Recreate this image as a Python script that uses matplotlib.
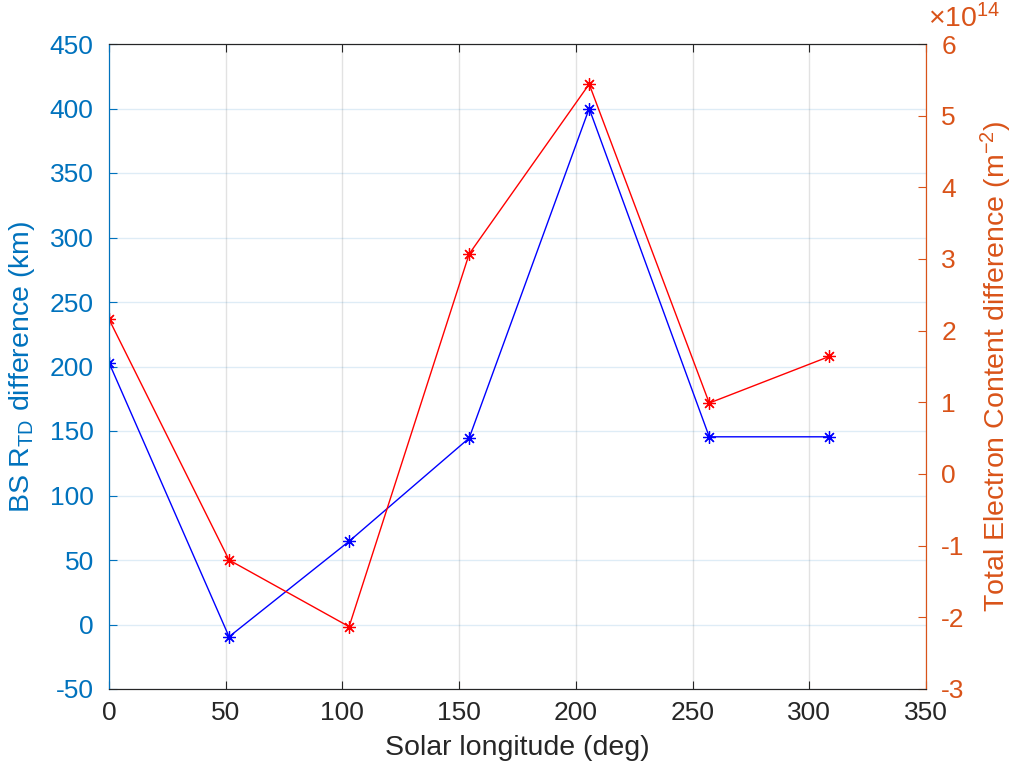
import matplotlib
matplotlib.use('Agg')
import matplotlib.pyplot as plt
from matplotlib.ticker import FuncFormatter

plt.rcParams['font.family'] = ['Liberation Sans', 'DejaVu Sans']
plt.rcParams['mathtext.fontset'] = 'custom'
plt.rcParams['mathtext.rm'] = 'Liberation Sans'
plt.rcParams['mathtext.it'] = 'Liberation Sans:italic'
plt.rcParams['axes.unicode_minus'] = False

# solar longitude (deg)
ls = [0, 51.43, 102.86, 154.29, 205.71, 257.14, 308.57]
# bow shock terminator distance difference (km)
rtd_diff = [203, -9.5, 64.5, 144.5, 400, 145.5, 145.5]
# total electron content difference (m^-2)
tec_diff = [2.16e14, -1.2e14, -2.13e14, 3.07e14, 5.44e14, 0.99e14, 1.64e14]

blue_ax = '#0072BD'
orange_ax = '#D95319'
dark = '#262626'

fig = plt.figure(figsize=(10.12, 7.74), dpi=100)
ax1 = fig.add_axes([109/1012, 85/774, 817/1012, 645/774])
ax2 = ax1.twinx()

ax1.plot(ls, rtd_diff, 'b-', lw=1, marker=(8, 2, 0), ms=9, mew=0.9)
ax2.plot(ls, tec_diff, 'r-', lw=1, marker=(8, 2, 0), ms=9, mew=0.9)

ax1.set_xlim(0, 350)
ax1.set_ylim(-50, 450)
ax1.set_xticks(range(0, 351, 50))
ax1.set_yticks(range(-50, 451, 50))
ax2.set_ylim(-3e14, 6e14)
ax2.set_yticks([i * 1e14 for i in range(-3, 7)])
ax2.yaxis.set_major_formatter(FuncFormatter(lambda v, p: '%d' % round(v / 1e14)))

# grid
ax1.set_axisbelow(True)
ax1.grid(axis='x', color=dark, alpha=0.13, lw=1)
ax1.grid(axis='y', color=blue_ax, alpha=0.13, lw=1)

# spines
for ax in (ax1, ax2):
    ax.spines['top'].set_color(dark)
    ax.spines['bottom'].set_color(dark)
    ax.spines['left'].set_color(blue_ax)
    ax.spines['right'].set_color(orange_ax)

ax1.tick_params(axis='x', direction='in', length=6, colors=dark, labelsize=19, top=True, pad=9)
ax1.tick_params(axis='y', direction='in', length=6, colors=blue_ax, labelsize=19, pad=11)
ax2.tick_params(axis='y', direction='in', length=6, colors=orange_ax, labelsize=19, pad=11)

ax1.set_xlabel('Solar longitude (deg)', fontsize=20.5, color=dark, labelpad=7)
ax1.set_ylabel('BS R$_{\\mathrm{TD}}$ difference (km)', fontsize=20.5, color=blue_ax, labelpad=9)
ax2.set_ylabel('Total Electron Content difference (m$^{-2}$)', fontsize=20.5, color=orange_ax, labelpad=10)

fig.text(928/1012, 1 - 27/774, '$\\times$10$^{14}$', fontsize=20.5, color=orange_ax, va='baseline', ha='left')

fig.savefig('out.png', dpi=100)
